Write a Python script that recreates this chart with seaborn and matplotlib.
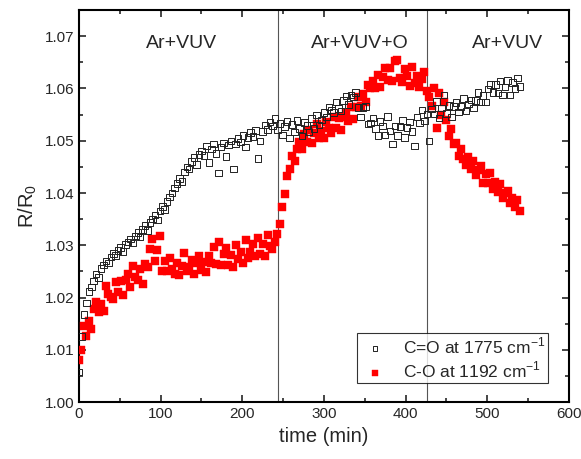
import numpy as np
import pandas as pd
import matplotlib
matplotlib.use("Agg")
import matplotlib.pyplot as plt
import seaborn as sns
from matplotlib.ticker import MultipleLocator

# time axis (min), one reading every 3 min
time_min = [
    0, 3, 6, 9, 12, 15, 18, 21, 24, 27,
    30, 33, 36, 39, 42, 45, 48, 51, 54, 57,
    60, 63, 66, 69, 72, 75, 78, 81, 84, 87,
    90, 93, 96, 99, 102, 105, 108, 111, 114, 117,
    120, 123, 126, 129, 132, 135, 138, 141, 144, 147,
    150, 153, 156, 159, 162, 165, 168, 171, 174, 177,
    180, 183, 186, 189, 192, 195, 198, 201, 204, 207,
    210, 213, 216, 219, 222, 225, 228, 231, 234, 237,
    240, 243, 246, 249, 252, 255, 258, 261, 264, 267,
    270, 273, 276, 279, 282, 285, 288, 291, 294, 297,
    300, 303, 306, 309, 312, 315, 318, 321, 324, 327,
    330, 333, 336, 339, 342, 345, 348, 351, 354, 357,
    360, 363, 366, 369, 372, 375, 378, 381, 384, 387,
    390, 393, 396, 399, 402, 405, 408, 411, 414, 417,
    420, 423, 426, 429, 432, 435, 438, 441, 444, 447,
    450, 453, 456, 459, 462, 465, 468, 471, 474, 477,
    480, 483, 486, 489, 492, 495, 498, 501, 504, 507,
    510, 513, 516, 519, 522, 525, 528, 531, 534, 537,
    540,
]

# C=O band at 1775 cm-1
r_co_double = [
    1.0058, 1.0125, 1.0168, 1.0190, 1.0212, 1.0220, 1.0232, 1.0245, 1.0238, 1.0256,
    1.0262, 1.0270, 1.0266, 1.0278, 1.0284, 1.0280, 1.0290, 1.0296, 1.0288, 1.0302,
    1.0306, 1.0312, 1.0304, 1.0318, 1.0324, 1.0316, 1.0330, 1.0338, 1.0328, 1.0344,
    1.0350, 1.0358, 1.0348, 1.0366, 1.0374, 1.0368, 1.0384, 1.0392, 1.0400, 1.0410,
    1.0418, 1.0428, 1.0422, 1.0440, 1.0450, 1.0446, 1.0460, 1.0468, 1.0455, 1.0474,
    1.0480, 1.0472, 1.0490, 1.0458, 1.0484, 1.0494, 1.0476, 1.0438, 1.0488, 1.0496,
    1.0470, 1.0492, 1.0500, 1.0446, 1.0494, 1.0504, 1.0498, 1.0510, 1.0488, 1.0506,
    1.0516, 1.0508, 1.0520, 1.0466, 1.0500, 1.0518, 1.0530, 1.0522, 1.0536, 1.0528,
    1.0543, 1.0521, 1.0533, 1.0511, 1.0527, 1.0537, 1.0505, 1.0531, 1.0517, 1.0539,
    1.0523, 1.0509, 1.0535, 1.0529, 1.0517, 1.0543, 1.0523, 1.0549, 1.0530, 1.0540,
    1.0554, 1.0545, 1.0565, 1.0559, 1.0554, 1.0574, 1.0562, 1.0557, 1.0577, 1.0586,
    1.0569, 1.0588, 1.0584, 1.0592, 1.0564, 1.0545, 1.0564, 1.0566, 1.0532, 1.0534,
    1.0544, 1.0523, 1.0510, 1.0537, 1.0528, 1.0511, 1.0546, 1.0519, 1.0494, 1.0528,
    1.0510, 1.0527, 1.0539, 1.0506, 1.0525, 1.0536, 1.0518, 1.0490, 1.0545, 1.0534,
    1.0559, 1.0538, 1.0551, 1.0500, 1.0561, 1.0551, 1.0575, 1.0544, 1.0563, 1.0588,
    1.0552, 1.0567, 1.0545, 1.0566, 1.0573, 1.0555, 1.0566, 1.0581, 1.0557, 1.0570,
    1.0578, 1.0563, 1.0577, 1.0592, 1.0574, 1.0587, 1.0574, 1.0599, 1.0608, 1.0592,
    1.0608, 1.0591, 1.0614, 1.0588, 1.0603, 1.0615, 1.0588, 1.0611, 1.0600, 1.0620,
    1.0604,
]

# C-O band at 1192 cm-1
r_co_single = [
    1.0081, 1.0100, 1.0145, 1.0126, 1.0155, 1.0140, 1.0178, 1.0191, 1.0173, 1.0188,
    1.0175, 1.0222, 1.0207, 1.0202, 1.0197, 1.0230, 1.0210, 1.0231, 1.0205, 1.0233,
    1.0245, 1.0220, 1.0260, 1.0240, 1.0234, 1.0254, 1.0226, 1.0264, 1.0258, 1.0292,
    1.0312, 1.0269, 1.0291, 1.0318, 1.0251, 1.0270, 1.0250, 1.0275, 1.0254, 1.0246,
    1.0267, 1.0244, 1.0261, 1.0285, 1.0251, 1.0258, 1.0272, 1.0245, 1.0266, 1.0280,
    1.0252, 1.0268, 1.0248, 1.0280, 1.0267, 1.0296, 1.0264, 1.0306, 1.0263, 1.0283,
    1.0294, 1.0263, 1.0281, 1.0259, 1.0301, 1.0274, 1.0288, 1.0267, 1.0311, 1.0275,
    1.0288, 1.0303, 1.0279, 1.0313, 1.0284, 1.0302, 1.0280, 1.0320, 1.0299, 1.0292,
    1.0306, 1.0322, 1.0340, 1.0374, 1.0398, 1.0432, 1.0446, 1.0470, 1.0462, 1.0484,
    1.0498, 1.0484, 1.0512, 1.0497, 1.0521, 1.0495, 1.0515, 1.0532, 1.0506, 1.0518,
    1.0506, 1.0535, 1.0525, 1.0515, 1.0545, 1.0524, 1.0543, 1.0521, 1.0546, 1.0554,
    1.0537, 1.0565, 1.0541, 1.0564, 1.0584, 1.0567, 1.0590, 1.0575, 1.0606, 1.0600,
    1.0614, 1.0600, 1.0626, 1.0603, 1.0622, 1.0640, 1.0616, 1.0640, 1.0615, 1.0652,
    1.0654, 1.0621, 1.0612, 1.0637, 1.0624, 1.0605, 1.0642, 1.0611, 1.0624, 1.0603,
    1.0618, 1.0632, 1.0596, 1.0584, 1.0566, 1.0600, 1.0524, 1.0592, 1.0550, 1.0574,
    1.0540, 1.0510, 1.0522, 1.0494, 1.0496, 1.0470, 1.0485, 1.0466, 1.0453, 1.0468,
    1.0446, 1.0462, 1.0434, 1.0444, 1.0452, 1.0420, 1.0436, 1.0420, 1.0438, 1.0408,
    1.0422, 1.0402, 1.0418, 1.0390, 1.0400, 1.0404, 1.0380, 1.0390, 1.0374, 1.0386,
    1.0366,
]

regions = ["Ar+VUV", "Ar+VUV+O", "Ar+VUV"]
region_label_t = [125, 344, 525]
switch_times = [244, 426]

sns.set_style("ticks")
plt.rcParams["font.family"] = ["Liberation Sans", "DejaVu Sans"]
plt.rcParams["mathtext.fontset"] = "custom"
plt.rcParams["mathtext.rm"] = "Liberation Sans"

fig = plt.figure(figsize=(5.81, 4.59), dpi=100)
ax = fig.add_axes([0.136, 0.124, 0.843, 0.854])

df = pd.DataFrame({"t": time_min, "co2": r_co_double, "co1": r_co_single})

sns.scatterplot(data=df, x="t", y="co1", ax=ax, marker="s", s=28,
                color="red", edgecolor="red", linewidth=0.3,
                label="C-O at 1192 cm$^{-1}$", zorder=3)
sns.scatterplot(data=df, x="t", y="co2", ax=ax, marker="s", s=22,
                facecolors="none", edgecolor="#222222", linewidth=0.7,
                label="C=O at 1775 cm$^{-1}$", zorder=4)

for st in switch_times:
    ax.axvline(st, color="#555555", lw=0.8, zorder=1)

for name, tx in zip(regions, region_label_t):
    ax.text(tx, 1.0687, name, ha="center", va="center", fontsize=14)

ax.set_xlim(0, 600)
ax.set_ylim(1.0, 1.075)
ax.xaxis.set_major_locator(MultipleLocator(100))
ax.xaxis.set_minor_locator(MultipleLocator(50))
ax.yaxis.set_major_locator(MultipleLocator(0.01))
ax.yaxis.set_minor_locator(MultipleLocator(0.005))
ax.yaxis.set_major_formatter(matplotlib.ticker.FormatStrFormatter("%.2f"))
ax.tick_params(which="both", direction="in", top=True, right=True, width=1.2)
ax.tick_params(which="major", length=5, labelsize=11)
ax.tick_params(which="minor", length=3)
for sp in ax.spines.values():
    sp.set_linewidth(1.5)
    sp.set_color("black")

ax.set_xlabel("time (min)", fontsize=14.5)
ax.set_ylabel("R/R$_0$", fontsize=14.5)

handles, labels = ax.get_legend_handles_labels()
leg = ax.legend(handles[::-1], labels[::-1], loc="lower right",
                bbox_to_anchor=(0.975, 0.027), fontsize=12.5, frameon=True,
                fancybox=False, edgecolor="black", markerscale=0.7,
                handletextpad=0.7, borderpad=0.15, labelspacing=0.2,
                handlelength=1.8)
leg.get_frame().set_linewidth(0.8)

fig.savefig("out.png", dpi=100)
